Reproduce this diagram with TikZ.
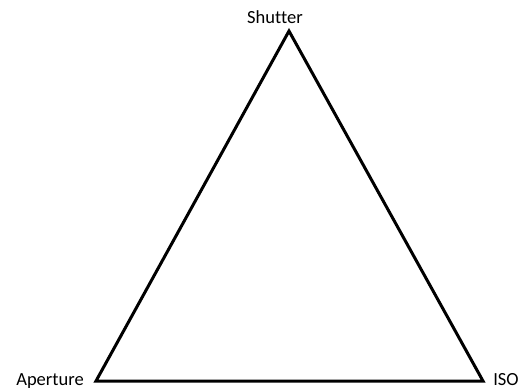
\documentclass[tikz,border=0pt]{standalone}
\usepackage{fontspec}
\setmainfont[Ligatures=NoCommon]{Carlito}
\begin{document}
\begin{tikzpicture}[x=1pt,y=-1pt,
  lbl/.style={inner sep=0pt, font=\fontsize{18.5}{20}\selectfont, anchor=base},
  edge/.style={line width=3pt, line join=miter}]
\useasboundingbox (0,0) rectangle (531,389);
\coordinate (S) at (289,31);
\coordinate (A) at (96,381);
\coordinate (I) at (483,381);
\draw[edge] (S) -- (A) -- (I) -- cycle;
\node[lbl] (ls) at (275,23) {Shutter};
\node[lbl] (la) at (50,385) {Aperture};
\node[lbl] (li) at (506,385) {ISO};
\end{tikzpicture}
\end{document}
